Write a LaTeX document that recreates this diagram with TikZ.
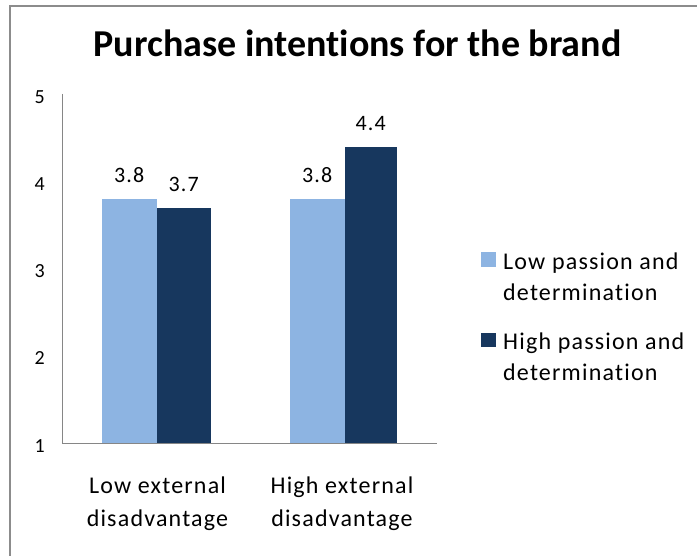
\documentclass[tikz,border=0pt]{standalone}
\usepackage{fontspec}
\setmainfont{Carlito}[Ligatures=NoCommon]
\newfontfamily\lblfont[LetterSpace=5,Ligatures=NoCommon]{Carlito}
\definecolor{lightbar}{HTML}{8DB4E2}
\definecolor{darkbar}{HTML}{17375E}
\definecolor{axisgray}{HTML}{868686}
\definecolor{framegray}{HTML}{8C8C8C}
\tikzset{
  lbl/.style={font=\lblfont\fontsize{24}{28}\selectfont, inner sep=0pt, anchor=base},
  ticklbl/.style={font=\lblfont\fontsize{20}{24}\selectfont, inner sep=0pt, anchor=base east},
  datalbl/.style={font=\lblfont\fontsize{22}{26}\selectfont, inner sep=0pt, anchor=base},
  legtxt/.style={font=\lblfont\fontsize{24}{28}\selectfont, inner sep=0pt, anchor=base west},
  axisline/.style={draw=axisgray, line width=1pt},
  lowbar/.style={fill=lightbar},
  highbar/.style={fill=darkbar},
}
\begin{document}
\begin{tikzpicture}[x=1pt,y=-1pt]
\useasboundingbox (0,0) rectangle (697,556);
% frame (top and left visible)
\draw[framegray, line width=1.5pt] (10,556) -- (10,6) -- (697,6);
% title
\node[font=\bfseries\fontsize{38}{45}\selectfont, inner sep=0pt, anchor=base] (title) at (357.5,57) {Purchase intentions for the brand};
% bars  (value v -> y = 443 - (v-1)*87)
\fill[lowbar]  (102,443) rectangle (156.5,199.4);
\fill[highbar] (156.5,443) rectangle (211,208.1);
\fill[lowbar]  (290,443) rectangle (344.5,199.4);
\fill[highbar] (344.5,443) rectangle (397,147.2);
% axes
\coordinate (ytop) at (62.7,94);
\coordinate (origin) at (62.7,443);
\coordinate (xend) at (436.7,443);
\draw[axisline] (ytop) -- (origin) -- (xend);
% tick labels
\node[ticklbl] (t5) at (45,104) {5};
\node[ticklbl] (t4) at (45,191) {4};
\node[ticklbl] (t3) at (45,278) {3};
\node[ticklbl] (t2) at (45,365) {2};
\node[ticklbl] (t1) at (45,452) {1};
% data labels
\node[datalbl] (d1) at (129.2,182.5) {3.8};
\node[datalbl] (d2) at (183.7,191.5) {3.7};
\node[datalbl] (d3) at (317.2,182.5) {3.8};
\node[datalbl] (d4) at (370.7,130.5) {4.4};
% category labels
\node[lbl] (c1a) at (157.5,493.5) {Low external};
\node[lbl] (c1b) at (157.5,526.5) {disadvantage};
\node[lbl] (c2a) at (342,493.5) {High external};
\node[lbl] (c2b) at (342,526.5) {disadvantage};
% legend
\fill[lowbar]  (481,252.3) rectangle (495.5,266.7);
\node[legtxt] (l1a) at (503,269.3) {Low passion and};
\node[legtxt] (l1b) at (503,300.7) {determination};
\fill[highbar] (481,332.7) rectangle (495.5,346.7);
\node[legtxt] (l2a) at (503,349.3) {High passion and};
\node[legtxt] (l2b) at (503,380.7) {determination};
\end{tikzpicture}
\end{document}
